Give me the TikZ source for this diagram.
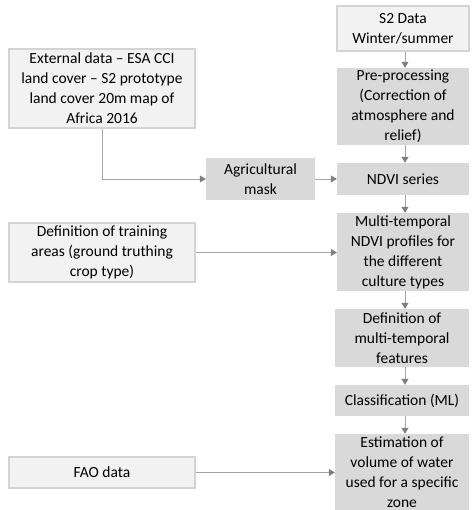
\documentclass[tikz,border=0pt]{standalone}
\usepackage{fontspec}
\setmainfont{Carlito}
\usetikzlibrary{arrows.meta}
\definecolor{lightbox}{HTML}{F2F2F2}
\definecolor{lightedge}{HTML}{D4D4D4}
\definecolor{darkbox}{HTML}{D9D9D9}
\definecolor{linegray}{HTML}{A6A6A6}
\definecolor{tipgray}{HTML}{7F7F7F}
\tikzset{
  inbox/.style={draw=lightedge, line width=1.5pt, fill=lightbox, align=center,
    inner sep=2pt, font=\fontsize{15.5}{20}\selectfont},
  procbox/.style={fill=darkbox, align=center, inner sep=1pt,
    font=\fontsize{15.5}{20}\selectfont},
  flow/.style={draw=linegray, line width=0.8pt,
    -{Triangle[width=7pt,length=6pt,color=tipgray]}}
}
\begin{document}
\begin{tikzpicture}[x=1pt, y=-1pt]
  \useasboundingbox (0,0) rectangle (471,510);

  % 1. Main processing chain on the right
  \node[inbox, minimum width=132pt, minimum height=45pt] (s2) at (403,28.5)
    {S2 Data\\Winter/summer};
  \node[procbox, minimum width=132pt, minimum height=77pt] (pre) at (403,106.5)
    {Pre-processing\\(Correction of\\atmosphere and\\relief)};
  \node[procbox, minimum width=132pt, minimum height=32pt] (ndvi) at (403,179)
    {NDVI series};
  \node[procbox, minimum width=132pt, minimum height=78pt] (multi) at (403,252)
    {Multi-temporal\\NDVI profiles for\\the different\\culture types};
  \node[procbox, minimum width=134pt, minimum height=58pt] (feat) at (402,338)
    {Definition of\\multi-temporal\\features};
  \node[procbox, minimum width=134pt, minimum height=31pt] (class) at (402,400.5)
    {Classification (ML)};
  \node[procbox, minimum width=134pt, minimum height=76pt] (est) at (402,472)
    {Estimation of\\volume of water\\used for a specific\\zone};

  % 2. Inputs on the left
  \node[inbox, minimum width=186pt, minimum height=79pt] (ext) at (102,88.5)
    {External data -- ESA CCI\\land cover -- S2 prototype\\land cover 20m map of\\Africa 2016};
  \node[procbox, minimum width=109pt, minimum height=42pt] (agri) at (260.5,179)
    {Agricultural\\mask};
  \node[inbox, minimum width=186pt, minimum height=59pt] (train) at (102,252.5)
    {Definition of training\\areas (ground truthing\\crop type)};
  \node[inbox, minimum width=186pt, minimum height=31pt] (fao) at (102,472.5)
    {FAO data};

  % 3. Arrows down the chain
  \foreach \a/\b in {s2/pre, pre/ndvi, ndvi/multi, multi/feat, feat/class, class/est} {
    \draw[flow] (\a.south -| 405,0) -- (\b.north -| 405,0);
  }

  % 4. Arrows from the inputs
  \draw[flow] (ext.south) |- (agri.west);
  \draw[flow] (agri.east) -- (ndvi.west);
  \draw[flow] (train.east) -- (train.east -| multi.west);
  \draw[flow] (fao.east) -- (fao.east -| est.west);
\end{tikzpicture}
\end{document}
